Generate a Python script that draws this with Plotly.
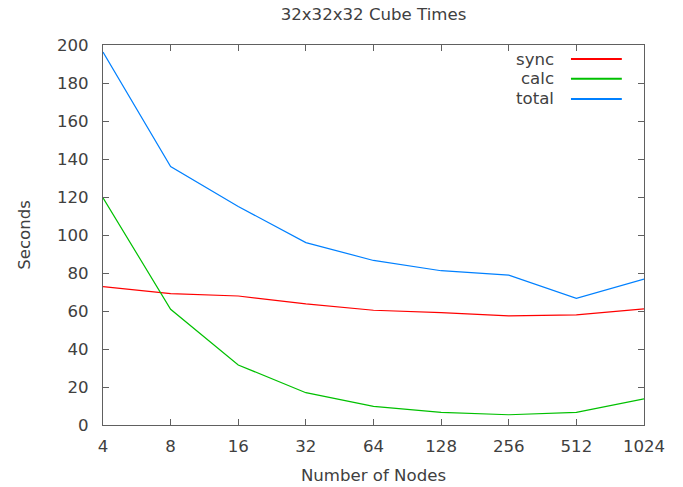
import plotly.graph_objects as go
import math

nodes = [4, 8, 16, 32, 64, 128, 256, 512, 1024]
node_labels = ["4", "8", "16", "32", "64", "128", "256", "512", "1024"]
series_names = ["sync", "calc", "total"]
sync_vals = [72.8, 69.1, 67.9, 63.7, 60.4, 59.1, 57.4, 58.0, 61.1]
calc_vals = [119.6, 60.9, 31.6, 17.0, 9.8, 6.6, 5.4, 6.6, 13.8]
total_vals = [196.3, 136.0, 115.0, 96.0, 86.6, 81.2, 78.9, 66.7, 76.8]
colors = ["#ff0000", "#00c000", "#0080ff"]

FONT = "DejaVu Sans"
FS = 16.6
TXT = "#404040"
AX = "#606060"

fig = go.Figure()
for name, vals, col in zip(series_names, [sync_vals, calc_vals, total_vals], colors):
    fig.add_trace(go.Scatter(x=nodes, y=vals, mode="lines", name=name,
                             line=dict(color=col, width=1.2), showlegend=False))

# gnuplot-style key: text right-aligned, line sample to the right
key_y = [0.963, 0.911, 0.858]
for name, col, ky in zip(series_names, colors, key_y):
    fig.add_annotation(xref="paper", yref="paper", x=0.837, y=ky, text=name,
                       showarrow=False, xanchor="right", yanchor="middle",
                       font=dict(family=FONT, size=FS, color=TXT))
    fig.add_shape(type="line", xref="paper", yref="paper", x0=0.865, x1=0.959,
                  y0=ky, y1=ky, line=dict(color=col, width=2))

fig.update_layout(
    width=683, height=487,
    margin=dict(l=103, r=39, t=45, b=62),
    paper_bgcolor="white", plot_bgcolor="white",
    font=dict(family=FONT, size=FS, color=TXT),
    title=dict(text="32x32x32 Cube Times", x=0.5, xref="paper", y=1 - 14 / 487,
               yref="container", xanchor="center", yanchor="middle",
               font=dict(family=FONT, size=FS, color=TXT)),
)
fig.update_xaxes(type="log", range=[math.log10(4), math.log10(1024)],
                 tickvals=nodes, ticktext=node_labels, ticklabelstandoff=6,
                 ticks="inside", ticklen=6, tickcolor=AX, showline=True,
                 linecolor=AX, linewidth=1, mirror="ticks", showgrid=False,
                 zeroline=False, automargin=False,
                 title=dict(text="Number of Nodes", standoff=14,
                            font=dict(family=FONT, size=FS, color=TXT)))
fig.update_yaxes(range=[0, 200], dtick=20, tick0=0, ticklabelstandoff=10,
                 ticks="inside", ticklen=6, tickcolor=AX, showline=True,
                 linecolor=AX, linewidth=1, mirror="ticks", showgrid=False,
                 zeroline=False, automargin=False,
                 title=dict(text="Seconds", standoff=22,
                            font=dict(family=FONT, size=FS, color=TXT)))

fig.write_html("out.html")
